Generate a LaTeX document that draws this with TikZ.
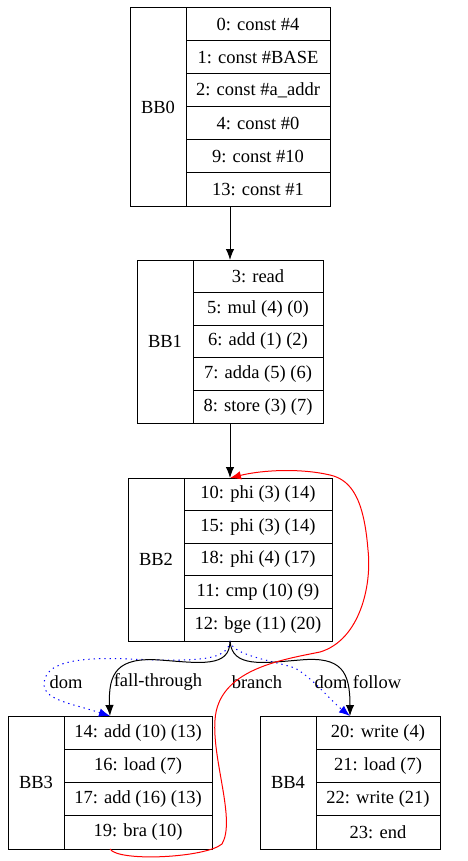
\documentclass[tikz,border=0pt]{standalone}
\usepackage{fontspec}
\setmainfont{Liberation Serif}
\usetikzlibrary{fit,positioning,arrows.meta}

\begin{document}
\begin{tikzpicture}[x=1pt,y=-1pt,node distance=0pt,inner sep=0pt,outer sep=0pt,font=\fontsize{18.5}{20}\selectfont]
\tikzstyle{bbname}=[rectangle, draw=black, line width=1pt, minimum width=56pt]
\tikzstyle{op}=[rectangle, draw=black, line width=1pt]
\tikzstyle{opa}=[op, minimum width=144pt, minimum height=33pt]
\tikzstyle{opb}=[op, minimum width=130pt, minimum height=32.6pt]
\tikzstyle{opc}=[op, minimum width=148pt, minimum height=32.6pt]
\tikzstyle{opd}=[op, minimum width=148pt, minimum height=33.25pt]
\tikzstyle{ope}=[op, minimum width=124pt, minimum height=33.25pt]
\tikzstyle{connect}=[-{Latex[length=11pt,width=8.5pt]}, line width=1pt]
\tikzstyle{dom}=[connect, blue, dash pattern=on 1.3pt off 4pt]
\tikzstyle{back}=[connect, red]
\useasboundingbox (0,0) rectangle (467,861);
% BB0
\node[bbname,minimum height=198pt] (bb0) at (158,107) {BB0};
\node[opa,anchor=north west] (i0) at (bb0.north east) {0: const \#4};
\node[opa] (i1) [below=of i0] {1: const \#BASE};
\node[opa] (i2) [below=of i1] {2: const \#a\_addr};
\node[opa] (i4) [below=of i2] {4: const \#0};
\node[opa] (i9) [below=of i4] {9: const \#10};
\node[opa] (i13) [below=of i9] {13: const \#1};
\node[fit=(bb0)(i13)] (b0) {};
% BB1
\node[bbname,minimum height=163pt] (bb1) at (165,341.5) {BB1};
\node[opb,anchor=north west] (i3) at (bb1.north east) {3: read};
\node[opb] (i5) [below=of i3] {5: mul (4) (0)};
\node[opb] (i6) [below=of i5] {6: add (1) (2)};
\node[opb] (i7) [below=of i6] {7: adda (5) (6)};
\node[opb] (i8) [below=of i7] {8: store (3) (7)};
\node[fit=(bb1)(i8)] (b1) {};
% BB2
\node[bbname,minimum height=163pt] (bb2) at (156,559.5) {BB2};
\node[opc,anchor=north west] (i10) at (bb2.north east) {10: phi (3) (14)};
\node[opc] (i15) [below=of i10] {15: phi (3) (14)};
\node[opc] (i18) [below=of i15] {18: phi (4) (17)};
\node[opc] (i11) [below=of i18] {11: cmp (10) (9)};
\node[opc] (i12) [below=of i11] {12: bge (11) (20)};
\node[fit=(bb2)(i12)] (b2) {};
% BB3
\node[bbname,minimum height=133pt] (bb3) at (36,782.5) {BB3};
\node[opd,anchor=north west] (i14) at (bb3.north east) {14: add (10) (13)};
\node[opd] (i16) [below=of i14] {16: load (7)};
\node[opd] (i17) [below=of i16] {17: add (16) (13)};
\node[opd] (i19) [below=of i17] {19: bra (10)};
\node[fit=(bb3)(i19)] (b3) {};
% BB4
\node[bbname,minimum height=133pt] (bb4) at (288,782.5) {BB4};
\node[ope,anchor=north west] (i20) at (bb4.north east) {20: write (4)};
\node[ope] (i21) [below=of i20] {21: load (7)};
\node[ope] (i22) [below=of i21] {22: write (21)};
\node[ope] (i23) [below=of i22] {23: end};
\node[fit=(bb4)(i23)] (b4) {};
% edge labels
\node (ldom3) at (66,682) {dom};
\node (lfall) at (158,682) {fall-through};
\node (lbranch) at (257,682) {branch};
\node (ldom4) at (331,682) {dom};
\node (lfollow) at (377,682) {follow};
% edges
\draw[connect] (b0.south) -- (b1.north);
\draw[connect] (b1.south) -- (b2.north);
\draw[dom] (b2.south) .. controls (228,660) and (200,662) .. (130,659)
  .. controls (60,656) and (45,668) .. (44,684)
  .. controls (44,700) and (70,703) .. (b3.north);
\draw[dom] (b2.south) .. controls (232,655) and (270,660) .. (295,668)
  .. controls (315,680) and (330,700) .. (b4.north);
\draw[connect] (b2.south) .. controls (230,668) and (200,663) .. (160,660)
  .. controls (118,657) and (108,672) .. (b3.north);
\draw[connect] (b2.south) .. controls (232,668) and (262,663) .. (300,660)
  .. controls (342,656) and (350,672) .. (b4.north);
\draw[back] (b3.south) .. controls (118,862) and (205,858) .. (222,844)
  .. controls (236,820) and (212,760) .. (215,720)
  .. controls (218,670) and (280,660) .. (320,652)
  .. controls (360,640) and (372,585) .. (368,550)
  .. controls (364,500) and (352,480) .. (330,475)
  .. controls (300,468) and (262,470) .. (b2.north);
\end{tikzpicture}
\end{document}
